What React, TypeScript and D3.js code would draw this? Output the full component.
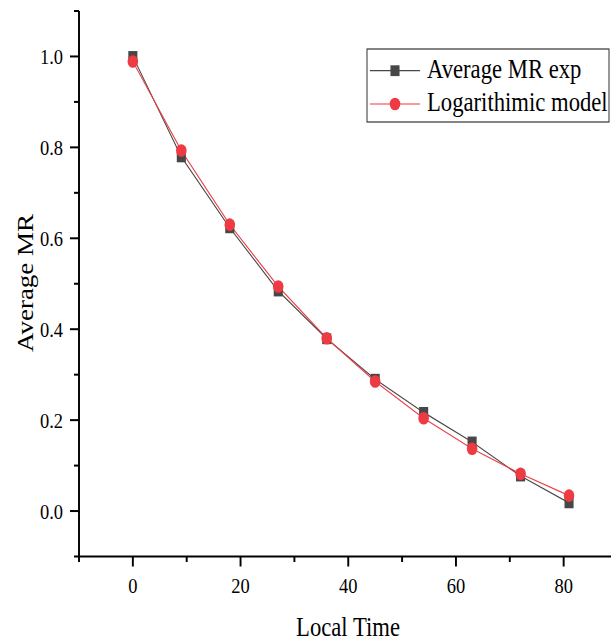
import React from "react";
import * as d3 from "d3";

const localTime = [0, 9, 18, 27, 36, 45, 54, 63, 72, 81];
const mrExp = [1.0, 0.779, 0.623, 0.484, 0.379, 0.29, 0.217, 0.152, 0.077, 0.018];
const mrLog = [0.989, 0.793, 0.63, 0.494, 0.38, 0.285, 0.204, 0.137, 0.082, 0.034];
const xMajor = [0, 20, 40, 60, 80];
const xMinor = [-10, 10, 30, 50, 70, 90];
const yMajor = [0, 0.2, 0.4, 0.6, 0.8, 1.0];
const yMinor = [-0.1, 0.1, 0.3, 0.5, 0.7, 0.9, 1.1];
const legendLabels = ["Average MR exp", "Logarithimic model"];

// the picture is squeezed horizontally, so draw in a wider viewBox
const sx = 0.84;
const W = 611;
const H = 640;
const VW = W / sx;
const font = "'Liberation Serif', 'DejaVu Serif', serif";
const gray = "#474747";
const red = "#ee3a42";

export default function App() {
  const x = d3.scaleLinear().domain([-10, 90]).range([79 / sx, (79 + 538.5) / sx]);
  const y = d3.scaleLinear().domain([-0.1, 1.1]).range([556.5, 11]);

  const line = d3
    .line<number>()
    .x((_, i) => x(localTime[i]))
    .y((d) => y(d));

  const x0 = x(-10);
  const y0 = y(-0.1);

  return (
    <svg
      width={W}
      height={H}
      viewBox={`0 0 ${VW} ${H}`}
      preserveAspectRatio="none"
      style={{ position: "absolute", left: 0, top: 0, background: "#fff" }}
    >
      {/* axes */}
      <line x1={x0} x2={VW} y1={y0} y2={y0} stroke="#000" strokeWidth={2} />
      <line x1={x0} x2={x0} y1={y(1.1)} y2={y0} stroke="#000" strokeWidth={2.3} />

      {yMajor.map((t) => (
        <g key={"ym" + t}>
          <line x1={x0 - 9 / sx} x2={x0} y1={y(t)} y2={y(t)} stroke="#000" strokeWidth={2} />
          <text
            x={63 / sx}
            y={y(t)}
            dy="0.35em"
            textAnchor="end"
            fontFamily={font}
            fontSize={22}
          >
            {t.toFixed(1)}
          </text>
        </g>
      ))}
      {yMinor.map((t) => (
        <line key={"yn" + t} x1={x0 - 5 / sx} x2={x0} y1={y(t)} y2={y(t)} stroke="#000" strokeWidth={2} />
      ))}

      {xMajor.map((t) => (
        <g key={"xm" + t}>
          <line x1={x(t)} x2={x(t)} y1={y0} y2={y0 + 10} stroke="#000" strokeWidth={2.3} />
          <text x={x(t)} y={593} textAnchor="middle" fontFamily={font} fontSize={22}>
            {t}
          </text>
        </g>
      ))}
      {xMinor.map((t) => (
        <line key={"xn" + t} x1={x(t)} x2={x(t)} y1={y0} y2={y0 + 5.5} stroke="#000" strokeWidth={2.3} />
      ))}

      {/* axis titles */}
      <text x={348 / sx} y={636} textAnchor="middle" fontFamily={font} fontSize={27}>
        Local Time
      </text>
      <text
        transform={`translate(${33 / sx},283) rotate(-90)`}
        textAnchor="middle"
        fontFamily={font}
        fontSize={27}
      >
        Average MR
      </text>

      {/* series */}
      <path d={line(mrExp) ?? ""} fill="none" stroke={gray} strokeWidth={1.2} />
      <path d={line(mrLog) ?? ""} fill="none" stroke={red} strokeWidth={1.2} />
      {mrExp.map((v, i) => (
        <rect key={"s" + i} x={x(localTime[i]) - 5.4} y={y(v) - 5.4} width={10.8} height={10.8} fill={gray} />
      ))}
      {mrLog.map((v, i) => (
        <circle key={"c" + i} cx={x(localTime[i])} cy={y(v)} r={6.3} fill={red} />
      ))}

      {/* legend */}
      <rect x={367 / sx} y={49} width={242 / sx} height={73} fill="#fff" stroke="#333" strokeWidth={1.2} />
      {legendLabels.map((label, i) => {
        const cy = i === 0 ? 70.7 : 104;
        const c = i === 0 ? gray : red;
        return (
          <g key={label}>
            <line x1={370 / sx} x2={420 / sx} y1={cy} y2={cy} stroke={c} strokeWidth={1.2} />
            {i === 0 ? (
              <rect x={395 / sx - 5.4} y={cy - 5.4} width={10.8} height={10.8} fill={gray} />
            ) : (
              <circle cx={395 / sx} cy={cy} r={6.3} fill={red} />
            )}
            <text x={427 / sx} y={cy + 7} fontFamily={font} fontSize={27}>
              {label}
            </text>
          </g>
        );
      })}
    </svg>
  );
}
